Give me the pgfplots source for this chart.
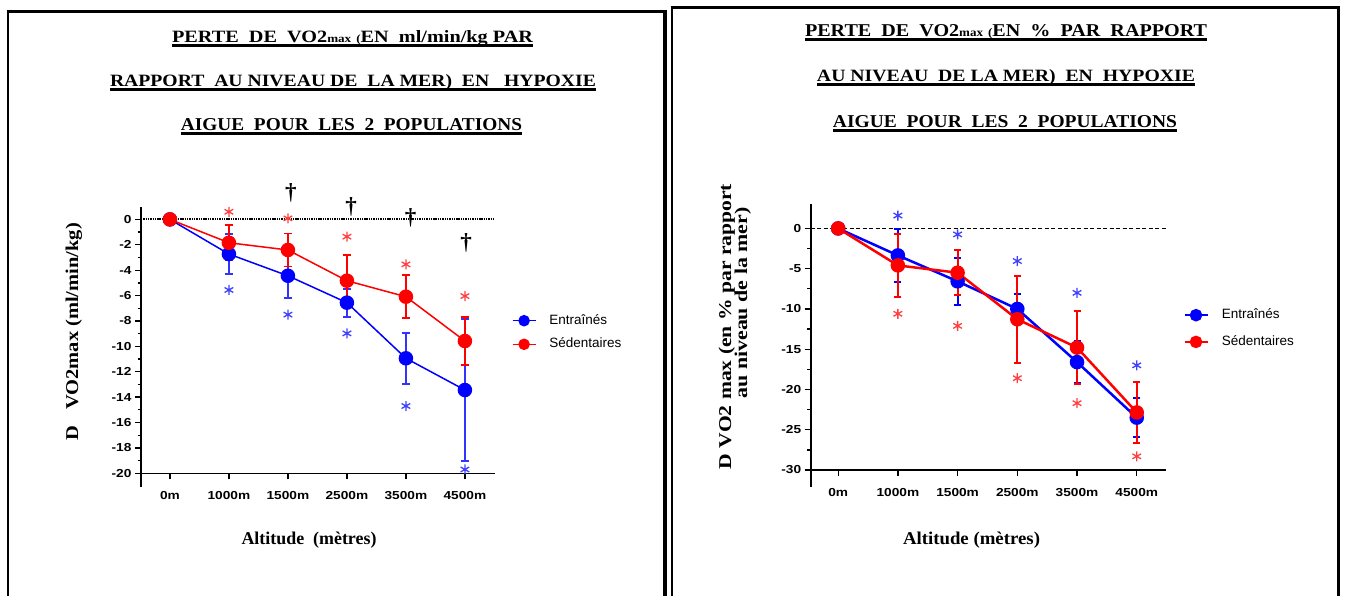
\documentclass[border=0pt]{standalone}
\usepackage{fontspec}
\setmainfont{Liberation Serif}
\newfontfamily\arialf{Liberation Sans}
\newfontfamily\timesf{Liberation Serif}
\usepackage{graphicx}
\usepackage{pgfplots}
\usepackage{pgfplotstable}
\pgfplotsset{compat=1.18}

% Loss of VO2max in ml/min/kg (mean and error)
\pgfplotstableread{
x   ent     entE   sed    sedE
0   0       0      0      0
1  -2.73    1.55  -1.84   1.40
2  -4.44    1.73  -2.41   1.30
3  -6.56    1.10  -4.83   2.05
4  -10.94   2.00  -6.09   1.70
5  -13.44   5.60  -9.58   1.88
}\absdata

% Loss of VO2max in % of sea-level value
\pgfplotstableread{
x   ent     entE   sed     sedE
0   0       0      0       0
1  -3.35    3.30  -4.59    3.90
2  -6.57    2.90  -5.50    2.80
3  -10.00   1.90  -11.28   5.40
4  -16.60   2.60  -14.80   4.50
5  -23.50   2.40  -22.85   3.75
}\pctdata

\newcommand\sx[1]{\scalebox{1.18}[1]{#1}}
\newcommand\tline[3]{%
  \setbox0=\hbox{\resizebox{#1}{#2}{\timesf\bfseries\fontsize{17}{17}\selectfont #3}}%
  \rlap{\rule[-3.8pt]{\wd0}{2.4pt}}\box0}
\newcommand\sm[1]{{\fontsize{11}{11}\selectfont #1}}

\tikzset{dag/.style={font=\timesf\bfseries\fontsize{23}{23}\selectfont, inner sep=0pt}}

\pgfplotsset{
  panel/.style={
    scale only axis,
    axis x line*=bottom, axis y line*=left,
    axis line style={line width=1.6pt, -},
    tick align=outside,
    major tick length=6pt, minor tick length=3.5pt,
    every tick/.style={black, line width=1.3pt},
    xtick={0,...,5},
    xticklabels={\sx{0m},\sx{1000m},\sx{1500m},\sx{2500m},\sx{3500m},\sx{4500m}},
    ticklabel style={font=\arialf\bfseries\fontsize{11.6}{12}\selectfont},
    xticklabel style={yshift=-8.5pt},
    yticklabel={\sx{\pgfmathprintnumber[assume math mode=true]{\tick}}},
    clip=false,
    legend cell align=left,
    legend image code/.code={\draw[mark repeat=2,mark phase=2,#1, mark size=5pt]
      plot coordinates {(0pt,0pt) (11.5pt,0pt) (23pt,0pt)};},
    legend style={draw=none, fill=none, anchor=north west, inner sep=0pt,
      font=\arialf\fontsize{13.5}{14}\selectfont,
      nodes={inner sep=0pt, text height=10pt, text depth=3pt},
      column sep=13pt},
  },
  ser/.style={#1, mark=*, mark options={solid, fill=#1, draw=#1}},
  ast/.style={forget plot, only marks, mark=asterisk, mark size=5pt, #1,
    mark options={line width=1.3pt}},
}

\begin{document}
\begin{tikzpicture}[x=1pt, y=1pt]
\useasboundingbox (0,0) rectangle (1347,-596);
\coordinate (LA) at (141,-473.3);
\coordinate (RA) at (810.7,-470);

% panel frames
\draw[line width=2pt] (8,-596) -- (8,-11);
\draw[line width=3pt] (6.5,-12) -- (666.5,-12);
\draw[line width=3.5pt] (665,-10.5) -- (665,-596);
\draw[line width=2pt] (672,-596) -- (672,-7);
\draw[line width=3pt] (670.5,-8) -- (1340,-8);
\draw[line width=3.5pt] (1338.5,-6.5) -- (1338.5,-596);

% ---------------- left panel ----------------
\node[anchor=base, inner sep=0] at (352.5,-43) {\tline{361pt}{12pt}{PERTE\ \ DE\ \ VO2\sm{max}\ \sm{(}EN\ \ ml/min/kg PAR}};
\node[anchor=base, inner sep=0] at (353,-87) {\tline{486pt}{12pt}{RAPPORT\ \ AU NIVEAU DE\ \ LA MER)\ \ EN\ \ \ HYPOXIE}};
\node[anchor=base, inner sep=0] at (351.5,-131) {\tline{341pt}{12pt}{AIGUE\ \ POUR\ \ LES\ \ 2\ \ POPULATIONS}};

\begin{axis}[panel, anchor=south west, at={(LA)},
  width=354pt, height=266.6pt,
  xmin=-0.49, xmax=5.51, ymin=-20, ymax=1,
  ytick={-20,-18,...,0}, minor ytick={-19,-17,...,-1},
  legend style={at={(1.047,0.5975)}, row sep=10.6pt}]
\addplot[forget plot, black, line width=2.2pt, dash pattern=on 1.4pt off 0.9pt]
  coordinates {(-0.49,0) (5.51,0)};
\addplot[ser=blue, line width=1.5pt, mark size=6.5pt,
  error bars/.cd, y dir=both, y explicit,
  error bar style={line width=2pt, blue!80},
  error mark options={rotate=90, blue!80, line width=1.8pt, mark size=4pt}]
  table[x=x, y=ent, y error=entE] {\absdata};
\addlegendentry{Entraînés}
\addplot[ser=red, line width=1.5pt, mark size=6.5pt,
  error bars/.cd, y dir=both, y explicit,
  error bar style={line width=2pt, red},
  error mark options={rotate=90, red, line width=1.8pt, mark size=4pt}]
  table[x=x, y=sed, y error=sedE] {\absdata};
\addlegendentry{Sédentaires}
\addplot[ast=red!75] coordinates {(1,0.6) (2,0.08) (3,-1.36) (4,-3.54) (5,-6.04)};
\addplot[ast=blue!75] coordinates {(1,-5.56) (2,-7.5) (3,-8.98) (4,-14.7) (5,-19.7)};
\node[dag] at (axis cs:2.05,2.1) {†};
\node[dag] at (axis cs:3.07,1.0) {†};
\node[dag] at (axis cs:4.08,0.1) {†};
\node[dag] at (axis cs:5.02,-1.85) {†};
\end{axis}
\draw[line width=1.6pt] (141,-473.3) -- (141,-487);
\node[anchor=base, inner sep=0] at (309,-544) {\resizebox{135pt}{12.5pt}{\timesf\bfseries Altitude\ \ (mètres)}};
\node[rotate=90, anchor=base, inner sep=0] at (78,-331.5) {\resizebox{217pt}{12.5pt}{\timesf\bfseries D\ \ \ VO2max (ml/min/kg)}};

% ---------------- right panel ----------------
\node[anchor=base, inner sep=0] at (1006,-37) {\tline{402pt}{12pt}{PERTE\ \ DE\ \ VO2\sm{max}\ \sm{(}EN\ \ \%\ \ PAR\ \ RAPPORT}};
\node[anchor=base, inner sep=0] at (1006,-82) {\tline{378pt}{12pt}{AU NIVEAU\ \ DE LA MER)\ \ EN\ \ HYPOXIE}};
\node[anchor=base, inner sep=0] at (1005,-128) {\tline{344pt}{12pt}{AIGUE\ \ POUR\ \ LES\ \ 2\ \ POPULATIONS}};

\begin{axis}[panel, anchor=south west, at={(RA)},
  width=355.3pt, height=266.2pt,
  xmin=-0.46, xmax=5.49, ymin=-30, ymax=3.06,
  ytick={-30,-25,...,0}, minor ytick={-27.5,-22.5,...,-2.5},
  legend style={at={(1.048,0.6067)}, row sep=13.7pt}]
\addplot[forget plot, black, line width=1.3pt, dash pattern=on 4pt off 2.5pt]
  coordinates {(-0.46,0) (5.49,0)};
\addplot[ser=blue, line width=2.5pt, mark size=6pt,
  error bars/.cd, y dir=both, y explicit,
  error bar style={line width=2.2pt, blue},
  error mark options={rotate=90, blue, line width=2pt, mark size=3.5pt}]
  table[x=x, y=ent, y error=entE] {\pctdata};
\addlegendentry{Entraînés}
\addplot[ser=red, line width=2.5pt, mark size=6pt,
  error bars/.cd, y dir=both, y explicit,
  error bar style={line width=2.2pt, red},
  error mark options={rotate=90, red, line width=2pt, mark size=3.5pt}]
  table[x=x, y=sed, y error=sedE] {\pctdata};
\addlegendentry{Sédentaires}
\addplot[ast=blue!75] coordinates {(1,1.6) (2,-0.74) (3,-4.05) (4,-8.0) (5,-17.0)};
\addplot[ast=red!75] coordinates {(1,-10.6) (2,-12.1) (3,-18.6) (4,-21.7) (5,-28.3)};
\end{axis}
\draw[line width=1.6pt] (810.7,-470) -- (810.7,-487);
\node[anchor=base, inner sep=0] at (971.5,-544) {\resizebox{137pt}{12.5pt}{\timesf\bfseries Altitude (mètres)}};
\node[rotate=90, anchor=base, inner sep=0] at (731,-326.5) {\resizebox{285pt}{12.5pt}{\timesf\bfseries D VO2 max (en \% par rapport}};
\node[rotate=90, anchor=base, inner sep=0] at (747,-303) {\resizebox{191pt}{12.5pt}{\timesf\bfseries au niveau de la mer)}};
\end{tikzpicture}
\end{document}
